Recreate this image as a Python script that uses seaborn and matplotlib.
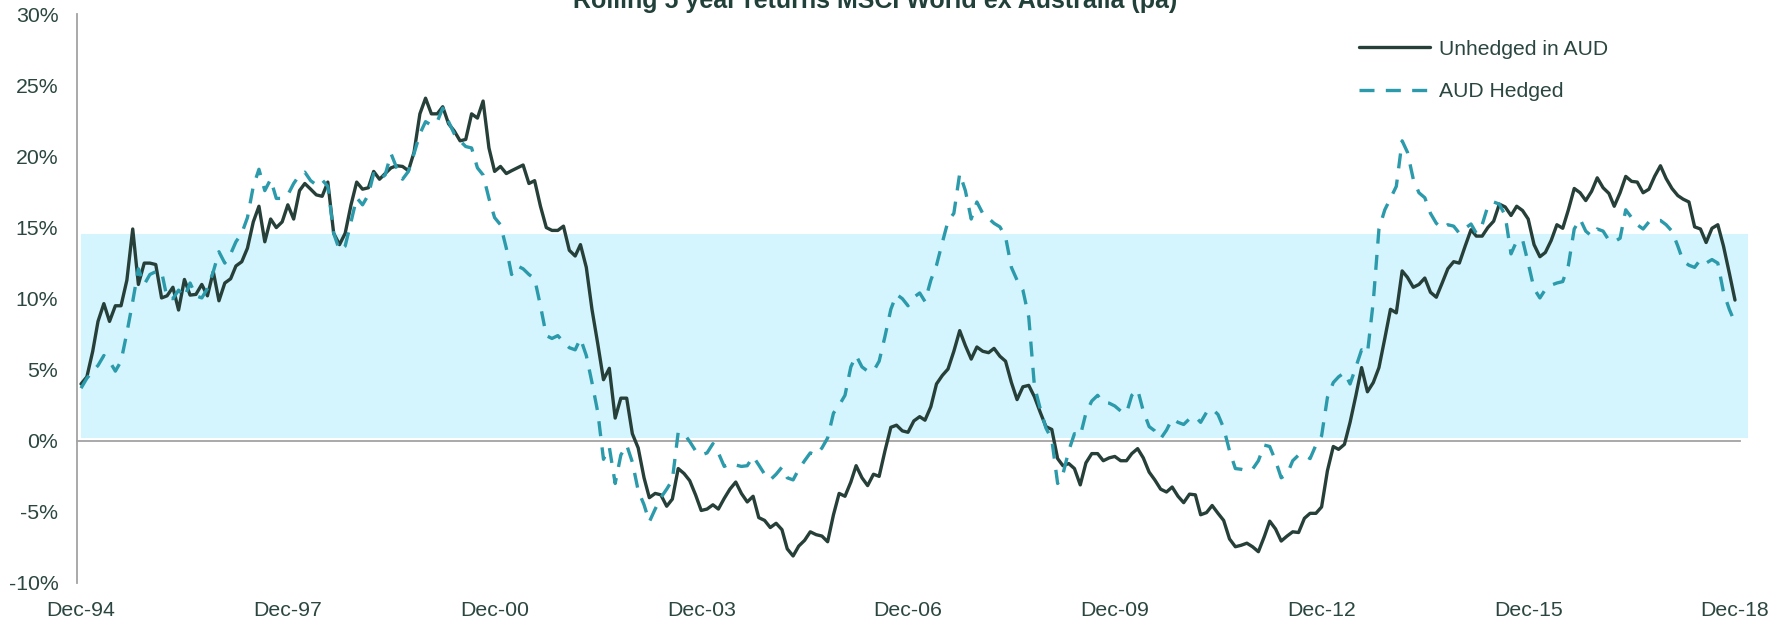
import numpy as np
import pandas as pd
import matplotlib
matplotlib.use("Agg")
import matplotlib.pyplot as plt
import matplotlib.dates as mdates
from matplotlib.ticker import FuncFormatter
import seaborn as sns

# Rolling 5 year returns (% pa), monthly Dec-94 .. Dec-18
unhedged = [
    4.0, 4.5, 6.3, 8.4, 9.65, 8.4, 9.5, 9.5, 11.3, 14.9, 11.0, 12.5,
    12.5, 12.4, 10.05, 10.2, 10.8, 9.2, 11.35, 10.25, 10.3, 11.0, 10.2, 11.9,
    9.85, 11.1, 11.4, 12.3, 12.6, 13.55, 15.4, 16.5, 14.0, 15.6, 15.0, 15.4,
    16.6, 15.6, 17.6, 18.1, 17.7, 17.3, 17.2, 18.2, 14.6, 13.8, 14.6, 16.6,
    18.2, 17.7, 17.8, 18.95, 18.4, 18.8, 19.2, 19.35, 19.3, 19.0, 20.3, 23.0,
    24.1, 23.0, 23.0, 23.5, 22.3, 21.8, 21.1, 21.2, 23.0, 22.7, 23.9, 20.6,
    18.95, 19.3, 18.8, 19.0, 19.2, 19.4, 18.1, 18.3, 16.5, 15.0, 14.8, 14.8,
    15.1, 13.4, 13.0, 13.8, 12.2, 9.25, 6.8, 4.3, 5.1, 1.6, 3.0, 3.0,
    0.5, -0.5, -2.6, -4.0, -3.7, -3.8, -4.6, -4.1, -1.95, -2.3, -2.8, -3.8,
    -4.9, -4.8, -4.5, -4.8, -4.05, -3.4, -2.9, -3.7, -4.3, -3.9, -5.4, -5.6,
    -6.1, -5.8, -6.25, -7.6, -8.1, -7.4, -7.0, -6.4, -6.6, -6.7, -7.1, -5.2,
    -3.7, -3.9, -2.9, -1.75, -2.6, -3.15, -2.35, -2.5, -0.7, 0.95, 1.1, 0.7,
    0.6, 1.4, 1.7, 1.45, 2.4, 4.0, 4.6, 5.05, 6.3, 7.75, 6.7, 5.75,
    6.6, 6.3, 6.2, 6.5, 5.95, 5.6, 4.1, 2.9, 3.8, 3.9, 3.1, 2.0,
    1.0, 0.8, -1.25, -1.75, -1.6, -1.95, -3.1, -1.55, -0.9, -0.9, -1.4, -1.2,
    -1.1, -1.4, -1.4, -0.9, -0.55, -1.2, -2.2, -2.75, -3.4, -3.6, -3.25, -3.9,
    -4.35, -3.75, -3.8, -5.2, -5.05, -4.55, -5.1, -5.6, -6.9, -7.45, -7.35, -7.2,
    -7.45, -7.8, -6.75, -5.65, -6.2, -7.05, -6.7, -6.4, -6.45, -5.45, -5.1, -5.1,
    -4.65, -2.1, -0.4, -0.6, -0.25, 1.3, 3.2, 5.15, 3.45, 4.1, 5.15, 7.2,
    9.25, 9.0, 11.95, 11.5, 10.8, 11.0, 11.45, 10.45, 10.1, 11.1, 12.1, 12.6,
    12.5, 13.7, 14.85, 14.4, 14.4, 15.0, 15.45, 16.65, 16.45, 15.85, 16.5, 16.2,
    15.6, 13.8, 12.95, 13.25, 14.1, 15.2, 14.95, 16.25, 17.75, 17.45, 16.9, 17.55,
    18.5, 17.8, 17.4, 16.5, 17.45, 18.6, 18.25, 18.2, 17.45, 17.7, 18.6, 19.35,
    18.45, 17.75, 17.25, 17.0, 16.8, 15.05, 14.9, 13.95, 14.95, 15.2, 13.7, 11.8,
    9.9,
]
hedged = [
    3.7, 4.4, 4.9, 5.3, 6.0, 5.6, 4.9, 5.6, 7.6, 9.8, 12.1, 11.0,
    11.7, 11.9, 11.9, 10.05, 10.0, 10.6, 10.1, 11.1, 10.2, 10.05, 10.7, 11.9,
    13.3, 12.5, 13.15, 14.0, 14.6, 15.7, 17.9, 19.1, 17.6, 18.4, 17.05, 17.05,
    17.3, 18.1, 18.7, 18.9, 18.3, 18.0, 18.35, 17.9, 14.6, 13.4, 13.7, 15.4,
    17.1, 16.6, 17.3, 18.8, 18.4, 18.7, 20.2, 19.2, 18.4, 18.95, 20.2, 21.6,
    22.45, 22.2, 22.45, 23.4, 22.45, 21.6, 21.1, 20.7, 20.6, 19.2, 18.7, 17.05,
    15.7, 15.2, 13.55, 11.7, 12.3, 12.1, 11.7, 11.4, 9.5, 7.4, 7.2, 7.4,
    6.95, 6.55, 6.4, 7.2, 6.0, 4.1, 2.0, -1.3, -0.45, -3.0, -1.0, -0.3,
    -1.5, -3.5, -4.5, -5.7, -4.8, -4.0, -3.4, -2.75, 0.6, 0.5, -0.05, -0.7,
    -1.0, -0.85, -0.2, -0.85, -1.8, -1.6, -1.7, -1.8, -1.75, -1.1, -1.7, -2.35,
    -2.75, -2.35, -1.85, -2.6, -2.75, -2.0, -1.4, -0.85, -1.0, -0.5, 0.2, 1.95,
    2.5, 3.2, 5.2, 6.0, 5.2, 4.9, 4.9, 5.6, 7.35, 9.25, 10.3, 10.0,
    9.5, 10.1, 10.4, 9.8, 11.3, 12.35, 13.95, 15.45, 16.0, 18.8, 17.6, 15.6,
    16.8, 16.0, 15.65, 15.3, 15.05, 14.35, 12.2, 11.3, 10.6, 8.7, 3.85, 2.25,
    0.9, 0.1, -3.0, -2.35, -0.7, 0.5, 0.35, 1.95, 2.8, 3.2, 2.7, 2.65,
    2.45, 2.1, 1.95, 3.2, 3.6, 2.1, 1.0, 0.7, 0.15, 0.75, 1.55, 1.3,
    1.15, 1.55, 1.7, 1.3, 2.0, 2.25, 1.85, 0.9, -0.7, -1.95, -2.0, -2.1,
    -2.0, -1.4, -0.3, -0.4, -1.4, -2.6, -2.35, -1.4, -1.0, -1.0, -1.25, -0.3,
    0.35, 3.05, 4.1, 4.5, 4.8, 4.0, 5.2, 6.4, 6.15, 9.8, 14.9, 16.25,
    17.05, 17.9, 21.1, 20.3, 18.4, 17.45, 17.1, 16.0, 15.3, 14.95, 15.2, 15.1,
    14.6, 14.95, 15.25, 14.6, 15.2, 16.5, 16.8, 16.65, 15.85, 13.15, 14.05, 14.15,
    12.5, 10.7, 10.05, 10.65, 10.95, 11.1, 11.2, 12.35, 14.9, 15.6, 14.75, 14.4,
    14.9, 14.75, 14.1, 14.0, 14.25, 16.25, 15.7, 15.2, 14.9, 15.4, 15.5, 15.5,
    15.2, 14.75, 13.7, 12.65, 12.35, 12.2, 12.75, 12.5, 12.75, 12.5, 10.45, 9.25,
    8.3,
]
series_names = ["Unhedged in AUD", "AUD Hedged"]
tick_labels = ["Dec-94", "Dec-97", "Dec-00", "Dec-03", "Dec-06",
               "Dec-09", "Dec-12", "Dec-15", "Dec-18"]
y_ticks = [-10, -5, 0, 5, 10, 15, 20, 25, 30]
band_low, band_high = 0.2, 14.55

months = pd.period_range("1994-12", periods=len(unhedged), freq="M").to_timestamp()
xnum = mdates.date2num(months.to_pydatetime())

df = pd.DataFrame({
    "x": np.concatenate([xnum, xnum]),
    "ret": unhedged + hedged,
    "series": [series_names[0]] * len(unhedged) + [series_names[1]] * len(hedged),
})

sns.set_style("white")
plt.rcParams["font.family"] = ["Liberation Sans", "DejaVu Sans"]

text_col = "#2b4640"
grey = "#a3a3a3"

fig = plt.figure(figsize=(17.88, 6.2), dpi=100)
ax = fig.add_axes([0.0431, 0.0597, 0.9301, 0.9172])

# shaded range band (runs a little past the last month)
ax.fill_between([xnum[0], xnum[-1] + 69], band_low, band_high,
                color="#d4f5fe", lw=0, zorder=0, clip_on=False)

sns.lineplot(data=df, x="x", y="ret", hue="series", style="series",
             hue_order=series_names, style_order=series_names,
             palette={series_names[0]: "#263f38", series_names[1]: "#2b9aab"},
             dashes={series_names[0]: "", series_names[1]: (4.5, 3.4)},
             linewidth=2.4, ax=ax, zorder=3)

ax.set_xlim(xnum[0] - 21, xnum[-1] + 27)
ax.set_ylim(-10, 30)
ax.set_xlabel("")
ax.set_ylabel("")

# y axis
ax.set_yticks(y_ticks)
ax.yaxis.set_major_formatter(FuncFormatter(lambda v, p: f"{v:.0f}%"))
ax.tick_params(axis="y", direction="out", length=5, width=1, color=grey,
               labelsize=15.3, labelcolor=text_col, pad=8.5)

# x axis line sits at 0%, labels stay at the bottom
tick_x = xnum[::36]
ax.spines["bottom"].set_position(("data", 0))
ax.set_xticks(tick_x)
ax.tick_params(axis="x", direction="out", length=6, width=1, color=grey,
               labelbottom=False)
sec = ax.secondary_xaxis("bottom")
sec.set_xticks(tick_x, labels=tick_labels)
sec.tick_params(length=0, labelsize=15.3, labelcolor=text_col, pad=13)
sec.spines["bottom"].set_visible(False)

for side in ["top", "right"]:
    ax.spines[side].set_visible(False)
for side in ["left", "bottom"]:
    ax.spines[side].set_color(grey)
    ax.spines[side].set_linewidth(1.3)

handles, labels = ax.get_legend_handles_labels()
leg = ax.legend(handles, labels, loc="upper left", frameon=False,
                bbox_to_anchor=(0.760, 0.936), bbox_transform=fig.transFigure,
                borderaxespad=0, borderpad=0, handlelength=3.35,
                handletextpad=0.45, labelspacing=1.12, fontsize=15.2)
for t in leg.get_texts():
    t.set_color(text_col)

fig.text(0.4896, 0.987, "Rolling 5 year returns MSCI World ex Australia (pa)",
         ha="center", va="baseline", fontsize=18, fontweight="bold",
         color="#22403a")

fig.savefig("out.png", dpi=100)
